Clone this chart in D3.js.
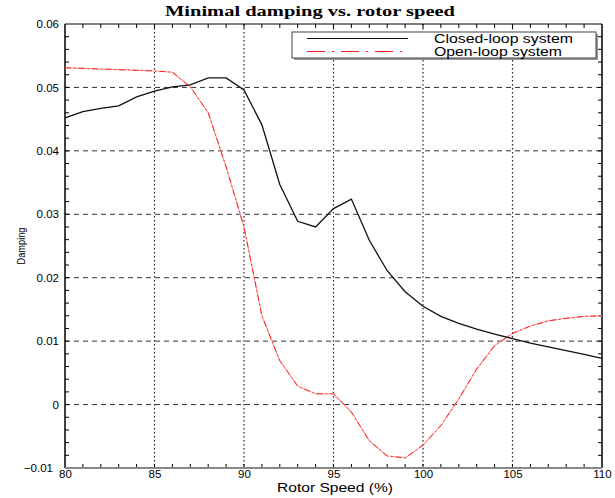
<!DOCTYPE html>
<html>
<head>
<meta charset="utf-8">
<script src="https://cdn.jsdelivr.net/npm/d3@7"></script>
<style>
  body { margin: 0; background: #fff; }
  svg { display: block; }
</style>
</head>
<body>
<svg id="chart" width="615" height="498"></svg>
<script>
// rotor speed (%) sample points
const speed = [80, 81, 82, 83, 84, 85, 86, 87, 88, 89, 90, 91, 92, 93, 94, 95, 96, 97, 98, 99,
  100, 101, 102, 103, 104, 105, 106, 107, 108, 109, 110];
// closed-loop damping
const closedLoop = [0.0452, 0.0462, 0.0467, 0.0471, 0.0485, 0.0494, 0.0501, 0.0504, 0.0515, 0.0515,
  0.0496, 0.0441, 0.0347, 0.0289, 0.0280, 0.0309, 0.0324, 0.0259, 0.0211, 0.0178,
  0.0155, 0.0139, 0.0128, 0.0119, 0.0111, 0.0104, 0.0097, 0.0091, 0.0085, 0.0079, 0.0073];
// open-loop damping
const openLoop = [0.0531, 0.0530, 0.0529, 0.0528, 0.0527, 0.0526, 0.0524, 0.0501, 0.0460, 0.0375,
  0.0280, 0.0140, 0.0069, 0.0029, 0.0017, 0.0017, -0.0012, -0.0057, -0.0081, -0.0084,
  -0.0064, -0.0033, 0.0009, 0.0056, 0.0093, 0.0112, 0.0124, 0.0132, 0.0136, 0.0139, 0.0140];
const xTicks = [80, 85, 90, 95, 100, 105, 110];
const yTicks = [-0.01, 0, 0.01, 0.02, 0.03, 0.04, 0.05, 0.06];
const legendLabels = ['Closed-loop system', 'Open-loop system'];

const padL = 65, padR = 602, padT = 24, padB = 468;

const svg = d3.select('#chart');
const x = d3.scaleLinear().domain([80, 110]).range([padL, padR]);
const y = d3.scaleLinear().domain([-0.01, 0.06]).range([padB, padT]);

const sans = 'Liberation Sans, Arial, Helvetica, sans-serif';

// grid: dotted verticals, dashed horizontals
svg.append('g')
  .selectAll('line')
  .data(xTicks.slice(1, -1))
  .join('line')
  .attr('x1', d => x(d)).attr('x2', d => x(d))
  .attr('y1', padT).attr('y2', padB)
  .attr('stroke', '#222').attr('stroke-width', 1.2)
  .attr('stroke-dasharray', '1.5,2.5');
svg.append('g')
  .selectAll('line')
  .data(yTicks.slice(1, -1))
  .join('line')
  .attr('x1', padL).attr('x2', padR)
  .attr('y1', d => y(d)).attr('y2', d => y(d))
  .attr('stroke', '#333').attr('stroke-width', 1)
  .attr('stroke-dasharray', '5,4');

// minor ticks pointing inward on all four sides
const minorX = d3.range(81, 110, 1);
const minorY = d3.range(-0.008, 0.0595, 0.002);
const tickLen = 4;
const tk = svg.append('g').attr('stroke', '#000').attr('stroke-width', 1);
tk.selectAll('.tb').data(minorX).join('line').attr('class', 'tb')
  .attr('x1', d => x(d)).attr('x2', d => x(d)).attr('y1', padB).attr('y2', padB - tickLen);
tk.selectAll('.tt').data(minorX).join('line').attr('class', 'tt')
  .attr('x1', d => x(d)).attr('x2', d => x(d)).attr('y1', padT).attr('y2', padT + tickLen);
tk.selectAll('.tl').data(minorY).join('line').attr('class', 'tl')
  .attr('y1', d => y(d)).attr('y2', d => y(d)).attr('x1', padL).attr('x2', padL + tickLen);
tk.selectAll('.tr').data(minorY).join('line').attr('class', 'tr')
  .attr('y1', d => y(d)).attr('y2', d => y(d)).attr('x1', padR).attr('x2', padR - tickLen);

// axes for the labels
const xAxis = d3.axisBottom(x).tickValues(xTicks).tickSize(0).tickPadding(2).tickFormat(d3.format('d'));
const gx = svg.append('g').attr('transform', `translate(0,${padB})`).call(xAxis);
gx.select('.domain').remove();
gx.selectAll('text').attr('font-family', sans).attr('font-size', 11.5).attr('fill', '#000');

const yAxis = d3.axisLeft(y).tickValues(yTicks).tickSize(0).tickPadding(6)
  .tickFormat(d => d === 0 ? '0' : d3.format('.2f')(d));
const gy = svg.append('g').attr('transform', `translate(${padL},0)`).call(yAxis);
gy.select('.domain').remove();
gy.selectAll('text').attr('font-family', sans).attr('font-size', 11.5).attr('fill', '#000')
  .attr('dx', d => d === -0.01 ? -6 : 0);

// frame
svg.append('line').attr('x1', padL).attr('x2', padL).attr('y1', padT).attr('y2', padB).attr('stroke', '#000').attr('stroke-width', 1.5);
svg.append('line').attr('x1', padR).attr('x2', padR).attr('y1', padT).attr('y2', padB).attr('stroke', '#000').attr('stroke-width', 1.5);
svg.append('line').attr('x1', padL).attr('x2', padR).attr('y1', padT).attr('y2', padT).attr('stroke', '#000').attr('stroke-width', 1.2);
svg.append('line').attr('x1', padL).attr('x2', padR).attr('y1', padB).attr('y2', padB).attr('stroke', '#888').attr('stroke-width', 2);

// lines
const line = d3.line().x((d, i) => x(speed[i])).y(d => y(d));
svg.append('path').datum(openLoop).attr('d', line)
  .attr('fill', 'none').attr('stroke', '#ff9a9a').attr('stroke-width', 1.1);
svg.append('path').datum(openLoop).attr('d', line)
  .attr('fill', 'none').attr('stroke', '#ff2020').attr('stroke-width', 1)
  .attr('stroke-dasharray', '6,3,1.5,3');
svg.append('path').datum(closedLoop).attr('d', line)
  .attr('fill', 'none').attr('stroke', '#111').attr('stroke-width', 1.3);

// legend
const lg = svg.append('g');
lg.append('rect').attr('x', 294).attr('y', 34).attr('width', 304).attr('height', 26).attr('fill', '#999');
lg.append('rect').attr('x', 292).attr('y', 32).attr('width', 304).attr('height', 26)
  .attr('fill', '#fff').attr('stroke', '#444').attr('stroke-width', 1);
lg.append('line').attr('x1', 307).attr('x2', 408).attr('y1', 38.5).attr('y2', 38.5)
  .attr('stroke', '#111').attr('stroke-width', 1.2);
lg.append('line').attr('x1', 307).attr('x2', 408).attr('y1', 51.5).attr('y2', 51.5)
  .attr('stroke', '#ff2020').attr('stroke-width', 1).attr('stroke-dasharray', '18,7,2,7');
const legendWidths = [139, 128];
lg.selectAll('text').data(legendLabels).join('text')
  .attr('x', 434).attr('y', (d, i) => 42.5 + i * 13)
  .attr('font-family', sans).attr('font-size', 12).attr('fill', '#000')
  .attr('textLength', (d, i) => legendWidths[i]).attr('lengthAdjust', 'spacingAndGlyphs')
  .text(d => d);

// title and axis labels
svg.append('text').attr('x', 310).attr('y', 16).attr('text-anchor', 'middle')
  .attr('font-family', 'Liberation Serif, Times New Roman, serif').attr('font-weight', 'bold')
  .attr('font-size', 15).attr('textLength', 290).attr('lengthAdjust', 'spacingAndGlyphs')
  .text('Minimal damping vs. rotor speed');
svg.append('text').attr('x', 335).attr('y', 492).attr('text-anchor', 'middle')
  .attr('font-family', sans).attr('font-size', 13)
  .attr('textLength', 116).attr('lengthAdjust', 'spacingAndGlyphs')
  .text('Rotor Speed (%)');
svg.append('text').attr('transform', 'translate(25,246) rotate(-90)').attr('text-anchor', 'middle')
  .attr('font-family', 'Liberation Sans Narrow, Liberation Sans, sans-serif')
  .attr('font-size', 10.5).attr('textLength', 37).attr('lengthAdjust', 'spacingAndGlyphs')
  .text('Damping');
</script>
</body>
</html>
